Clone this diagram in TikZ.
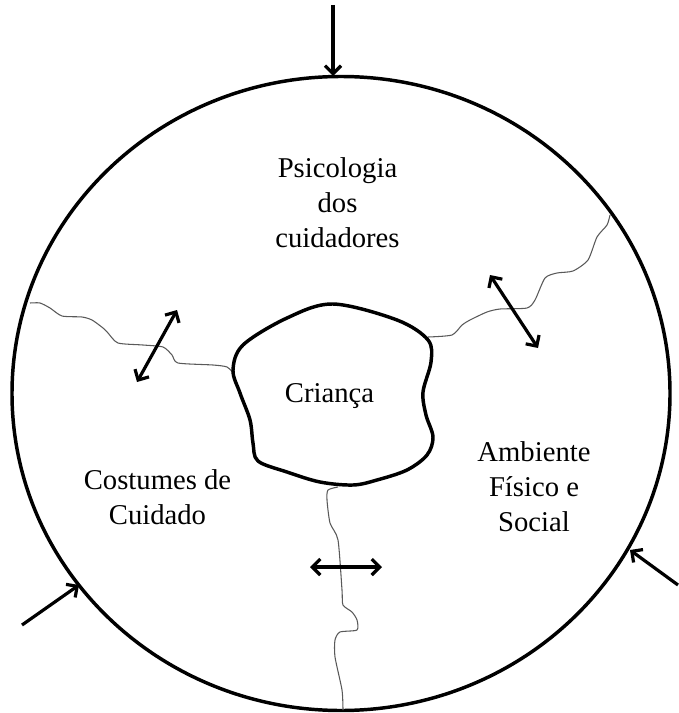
\documentclass[tikz,border=0pt]{standalone}
\usepackage{fontspec}
\setmainfont{Liberation Serif}
\usetikzlibrary{arrows.meta}

\tikzset{
  seta/.style={line width=2.4pt, -{Straight Barb[length=6pt,width=12pt]}},
  setadupla/.style={line width=2.4pt, {Straight Barb[length=6pt,width=12pt]}-{Straight Barb[length=6pt,width=12pt]}},
  fronteira/.style={gray!70!black, line width=0.8pt},
  rotulo/.style={align=center, font=\fontsize{21.5}{26}\selectfont, anchor=base}
}

\begin{document}
\begin{tikzpicture}[x=0.75pt, y=-0.75pt]
            \useasboundingbox (0,0) rectangle (678,713);
            % meio envolvente
            \draw[line width=2.6pt] (341,393.5) ellipse [x radius=329, y radius=317];
            % fronteiras entre os tres subsistemas
            \draw[fronteira] plot[smooth, tension=0.4] coordinates {(30,303) (40,303) (50,308) (62,316) (82,317) (92,320) (103,328)
                (108,333) (118,343) (143,345) (163,347) (172,355) (178,363) (213,365) (227,367) (234,374)};
            \draw[fronteira] plot[smooth, tension=0.4] coordinates {(428,337) (452,335) (462,325) (470,320) (487,312) (500,309) (527,308)
                (535,300) (545,278) (557,273) (573,271) (588,260) (597,237) (607,225) (610,215)};
            \draw[fronteira] plot[smooth, tension=0.4] coordinates {(338,487) (328,490) (327,500) (330,523) (338,540) (342,590) (343,605)
                (352,612) (357,620) (357,630) (340,632) (335,640) (335,657) (342,690) (343,710)};
            % a crianca
            \draw[line width=2.6pt, fill=white] plot[smooth cycle, tension=0.55] coordinates {
                (333,304) (397,320) (428,340) (431,362) (423,392) (426,415) (433,437) (427,455)
                (407,470) (377,480) (353,485) (320,482) (287,472) (258,461) (253,443) (250,420)
                (240,393) (233,370) (243,345) (287,318)};
            \node[rotulo] (crianca) at (329.5,402) {Criança};
            \node[rotulo] (psico) at (337.5,247) {Psicologia\\dos\\cuidadores};
            \node[rotulo] (costumes) at (157.5,524) {Costumes de\\Cuidado};
            \node[rotulo] (ambiente) at (534,531) {Ambiente\\Físico e\\Social};
            % influencias externas
            \coordinate (e1) at (333,5);   \coordinate (f1) at (333,76);
            \coordinate (e2) at (22,625);  \coordinate (f2) at (79,585);
            \coordinate (e3) at (678,585); \coordinate (f3) at (630,550);
            \draw[seta] (e1) -- (f1);
            \draw[seta] (e2) -- (f2);
            \draw[seta] (e3) -- (f3);
            % trocas entre subsistemas
            \coordinate (a1) at (177,310); \coordinate (b1) at (137,382);
            \coordinate (a2) at (490,275); \coordinate (b2) at (538,348);
            \coordinate (a3) at (310,567); \coordinate (b3) at (382,567);
            \draw[setadupla] (a1) -- (b1);
            \draw[setadupla] (a2) -- (b2);
            \draw[setadupla] (a3) -- (b3);
        \end{tikzpicture}
\end{document}
